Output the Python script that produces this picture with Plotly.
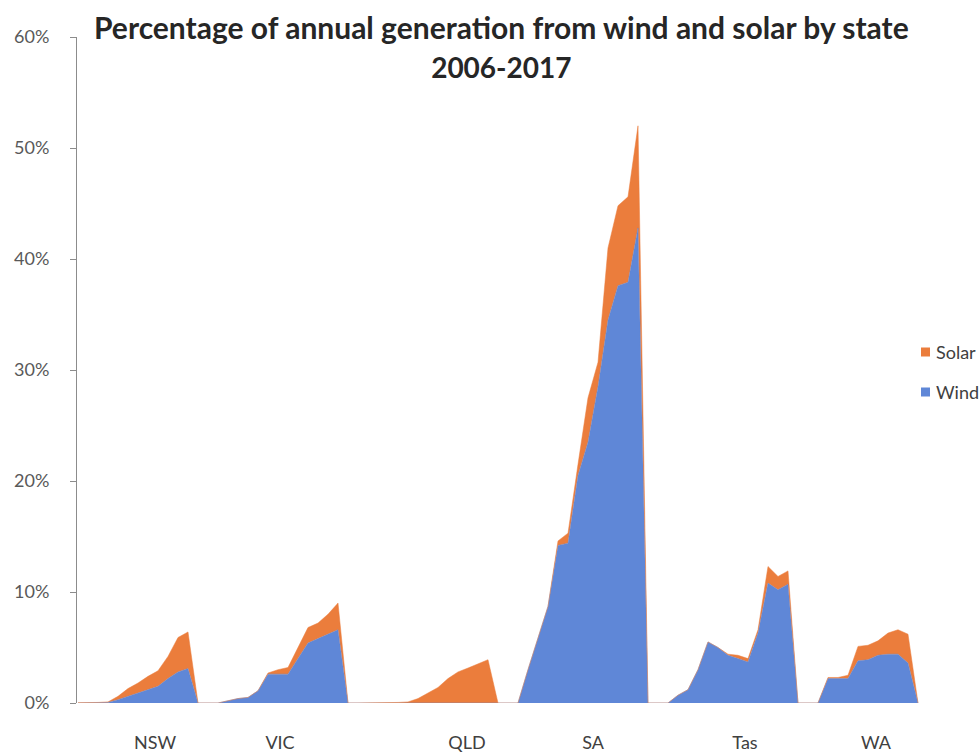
import plotly.graph_objects as go

# ---- data (percent of annual generation), years 2006-2017 ----
states = ["NSW", "VIC", "QLD", "SA", "Tas", "WA"]
years = list(range(2006, 2018))

wind_nsw = [0, 0, 0, 0.05, 0.3, 0.6, 0.9, 1.2, 1.5, 2.2, 2.8, 3.1]
total_nsw = [0.03, 0.03, 0.05, 0.1, 0.6, 1.3, 1.8, 2.4, 2.9, 4.2, 5.9, 6.4]

wind_vic = [0.2, 0.4, 0.5, 1.1, 2.6, 2.6, 2.6, 4.0, 5.4, 5.8, 6.2, 6.6]
total_vic = [0.2, 0.4, 0.5, 1.1, 2.7, 3.0, 3.2, 5.0, 6.8, 7.2, 8.0, 9.0]

wind_qld = [0, 0, 0, 0, 0, 0, 0, 0, 0, 0, 0, 0]
total_qld = [0.03, 0.03, 0.05, 0.1, 0.4, 0.9, 1.4, 2.2, 2.8, 3.15, 3.5, 3.9]

wind_sa = [3.0, 5.8, 8.7, 14.2, 14.4, 20.5, 23.5, 28.5, 34.5, 37.6, 37.9, 42.8]
total_sa = [3.0, 5.8, 8.7, 14.6, 15.3, 21.5, 27.5, 30.7, 41.0, 44.8, 45.6, 52.0]

wind_tas = [0.7, 1.2, 3.0, 5.5, 5.0, 4.3, 4.0, 3.7, 6.3, 10.8, 10.2, 10.7]
total_tas = [0.7, 1.2, 3.0, 5.5, 5.0, 4.4, 4.3, 4.0, 6.6, 12.3, 11.4, 11.9]

wind_wa = [None, None, None, 2.2, 2.2, 2.2, 3.8, 3.9, 4.3, 4.4, 4.4, 3.6]
total_wa = [None, None, None, 2.3, 2.3, 2.5, 5.1, 5.2, 5.6, 6.3, 6.6, 6.2]

wind_by_state = [wind_nsw, wind_vic, wind_qld, wind_sa, wind_tas, wind_wa]
total_by_state = [total_nsw, total_vic, total_qld, total_sa, total_tas, total_wa]

series_names = ["Solar", "Wind"]
title_line1 = "Percentage of annual generation from wind and solar by state"
title_line2 = "2006-2017"

GAP = 3  # empty categories between states

# ---- build category sequence ----
xs, wind_y, solar_y = [], [], []
idx = 0
for s, (w, t) in enumerate(zip(wind_by_state, total_by_state)):
    for wv, tv in zip(w, t):
        if wv is None:
            continue
        xs.append(idx)
        wind_y.append(wv)
        solar_y.append(round(tv - wv, 3))
        idx += 1
    n_gap = GAP if s < len(states) - 1 else 1
    for _ in range(n_gap):
        xs.append(idx)
        wind_y.append(0)
        solar_y.append(0)
        idx += 1

# label positions (category units) for the state names
label_pos = [7.7, 20.2, 38.9, 51.5, 66.7, 79.8]

BLUE = "#5F87D7"
ORANGE = "#EB7D3C"
FONT = "Lato"

# plot-area geometry in pixels (for placing title / legend)
L, R, T, B = 77, 920, 37, 703
W_PLOT, H_PLOT = R - L, B - T


def px_x(p):
    return (p - L) / W_PLOT


def px_y(p):
    return (B - p) / H_PLOT


fig = go.Figure()
fig.add_trace(go.Scatter(x=xs, y=wind_y, stackgroup="one", mode="lines",
                         line=dict(width=0.5, color=BLUE), fillcolor=BLUE,
                         name="Wind", showlegend=False, hoverinfo="skip"))
fig.add_trace(go.Scatter(x=xs, y=solar_y, stackgroup="one", mode="lines",
                         line=dict(width=0.5, color=ORANGE), fillcolor=ORANGE,
                         name="Solar", showlegend=False, hoverinfo="skip"))

annotations = [
    dict(text="<b>" + title_line1 + "<br><span style='font-size:28px'>"
         + title_line2 + "</span></b>",
         xref="paper", yref="paper",
         x=px_x(501), y=px_y(7), xanchor="center", yanchor="top",
         showarrow=False, font=dict(family=FONT, size=30, color="#262626")),
]
shapes = []
legend_rows = [(series_names[0], ORANGE, 352), (series_names[1], BLUE, 392)]
for name, col, yc in legend_rows:
    shapes.append(dict(type="rect", xref="paper", yref="paper",
                       x0=px_x(921), x1=px_x(930), y0=px_y(yc + 4.5), y1=px_y(yc - 4.5),
                       fillcolor=col, line=dict(width=0)))
    annotations.append(dict(text=name, xref="paper", yref="paper",
                            x=px_x(934), y=px_y(yc), xanchor="left", yanchor="middle",
                            showarrow=False,
                            font=dict(family=FONT, size=18, color="#404040")))

fig.update_layout(
    width=979, height=753,
    margin=dict(l=L, r=979 - R, t=T, b=753 - B),
    paper_bgcolor="white", plot_bgcolor="white",
    font=dict(family=FONT, color="#595959"),
    showlegend=False,
    annotations=annotations,
    shapes=shapes,
)
fig.update_yaxes(
    range=[0, 60], dtick=10, ticksuffix="%",
    showline=True, linecolor="#8c8c8c", linewidth=1,
    ticks="outside", ticklen=6, tickcolor="#8c8c8c",
    showgrid=False, zeroline=False, automargin=False,
    tickfont=dict(family=FONT, size=18, color="#595959"),
    ticklabelstandoff=17,
)
fig.update_xaxes(
    range=[-0.1, (R - 78) / 10],
    tickmode="array", tickvals=label_pos, ticktext=states,
    ticks="", showline=False, showgrid=False, zeroline=False, automargin=False,
    tickfont=dict(family=FONT, size=18, color="#404040"),
    ticklabelstandoff=27,
)

fig.write_html(
    "out.html",
    config={"displayModeBar": False},
    post_script="document.body.style.margin='0';document.body.style.padding='0';",
)
